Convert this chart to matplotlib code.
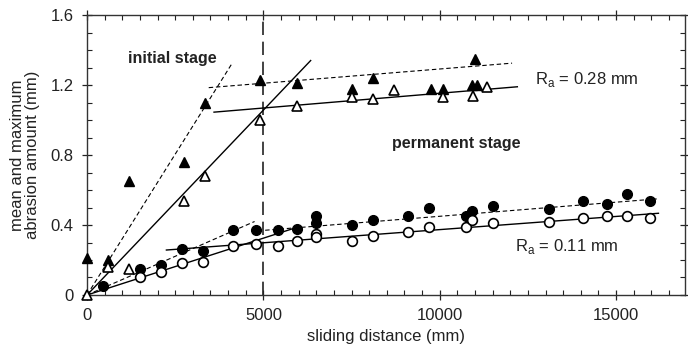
import matplotlib
matplotlib.use('Agg')
import matplotlib.pyplot as plt
from matplotlib.ticker import MultipleLocator

plt.rcParams['font.family'] = ['Liberation Sans', 'DejaVu Sans']
plt.rcParams['mathtext.fontset'] = 'custom'
plt.rcParams['mathtext.rm'] = 'Liberation Sans'

# Ra = 0.28 mm, maximum (filled triangles)
tri_max_x = [0, 600, 1200, 2750, 3350, 4900, 5950, 7500, 8100, 9750, 10100, 10900, 11050, 11000]
tri_max_y = [0.21, 0.20, 0.65, 0.76, 1.10, 1.23, 1.21, 1.18, 1.24, 1.18, 1.18, 1.20, 1.20, 1.35]
# Ra = 0.28 mm, mean (open triangles)
tri_mean_x = [0, 600, 1200, 2750, 3350, 4900, 5950, 7500, 8100, 8700, 10100, 10950, 11350]
tri_mean_y = [0, 0.16, 0.15, 0.54, 0.68, 1.00, 1.08, 1.13, 1.12, 1.17, 1.13, 1.14, 1.19]
# Ra = 0.11 mm, maximum (filled circles)
cir_max_x = [450, 1500, 2100, 2700, 3300, 4150, 4800, 5400, 5950, 6500, 6500, 7500, 8100,
             9100, 9700, 10750, 10900, 11500, 13100, 14050, 14750, 15300, 15950]
cir_max_y = [0.05, 0.15, 0.17, 0.26, 0.25, 0.37, 0.37, 0.37, 0.38, 0.45, 0.41, 0.40, 0.43,
             0.45, 0.50, 0.45, 0.48, 0.51, 0.49, 0.54, 0.52, 0.58, 0.54]
# Ra = 0.11 mm, mean (open circles)
cir_mean_x = [1500, 2100, 2700, 3300, 4150, 4800, 5400, 5950, 6500, 6500, 7500, 8100,
              9100, 9700, 10750, 10900, 11500, 13100, 14050, 14750, 15300, 15950]
cir_mean_y = [0.10, 0.13, 0.18, 0.19, 0.28, 0.29, 0.28, 0.31, 0.35, 0.33, 0.31, 0.34,
              0.36, 0.39, 0.39, 0.43, 0.41, 0.42, 0.44, 0.45, 0.45, 0.44]

# fitted lines (end points)
fit_solid = [([0, 6340], [0, 1.34]),          # 0.28 mean, initial
             ([3600, 12200], [1.045, 1.19]),  # 0.28 mean, permanent
             ([0, 5850], [0, 0.38]),          # 0.11 mean, initial
             ([2250, 16200], [0.257, 0.467])] # 0.11 mean, permanent
fit_dashed = [([0, 4100], [0, 1.32]),
              ([3450, 12050], [1.185, 1.325]),
              ([0, 4750], [0, 0.42]),
              ([5050, 16150], [0.37, 0.549])]

fig = plt.figure(figsize=(6.88, 3.58), dpi=100)
ax = fig.add_axes([0.1265, 0.176, 0.869, 0.782])

for xs, ys in fit_solid:
    ax.plot(xs, ys, color='k', lw=1.0, zorder=2)
for xs, ys in fit_dashed:
    ax.plot(xs, ys, color='k', lw=0.8, dashes=(4, 2.5), zorder=2)
ax.axvline(5000, color='#222222', lw=1.2, dashes=(8, 4), zorder=1)

mk = dict(ls='none', ms=7, clip_on=False, zorder=3)
ax.plot(tri_max_x, tri_max_y, '^', mfc='k', mec='k', **mk)
ax.plot(tri_mean_x, tri_mean_y, '^', mfc='white', mec='k', mew=1.2, **mk)
ax.plot(cir_max_x, cir_max_y, 'o', mfc='k', mec='k', **mk)
ax.plot(cir_mean_x, cir_mean_y, 'o', mfc='white', mec='k', mew=1.2, **mk)

ax.text(1170, 1.354, 'initial stage', fontsize=11.5, fontweight='bold', va='center', color='#222222')
ax.text(8640, 0.867, 'permanent stage', fontsize=11.5, fontweight='bold', va='center', color='#222222')
ax.text(12700, 1.233, r'R$_\mathrm{a}$ = 0.28 mm', fontsize=12, va='center', color='#222222')
ax.text(12130, 0.276, r'R$_\mathrm{a}$ = 0.11 mm', fontsize=12, va='center', color='#222222')

ax.set_xlim(0, 16950)
ax.set_ylim(0, 1.6)
ax.set_xticks([0, 5000, 10000, 15000])
ax.set_xticklabels(['0', '5000', '10000', '15000'])
ax.set_yticks([0, 0.4, 0.8, 1.2, 1.6])
ax.set_yticklabels(['0', '0.4', '0.8', '1.2', '1.6'])
ax.xaxis.set_minor_locator(MultipleLocator(500))
ax.yaxis.set_minor_locator(MultipleLocator(0.1))
ax.tick_params(which='major', direction='inout', length=7, width=0.9, top=True, right=True,
               labelsize=12, colors='#222222', pad=6)
ax.tick_params(which='minor', direction='in', length=3.5, width=0.8, top=True, right=True,
               colors='#222222')
for s in ax.spines.values():
    s.set_color('#333333')
    s.set_linewidth(1.0)

ax.set_xlabel('sliding distance (mm)', fontsize=12, color='#222222', labelpad=4)
ax.set_ylabel('mean and maximum\nabrasion amount (mm)', fontsize=12, color='#222222',
              labelpad=8, linespacing=1.0)

fig.savefig('out.png')
